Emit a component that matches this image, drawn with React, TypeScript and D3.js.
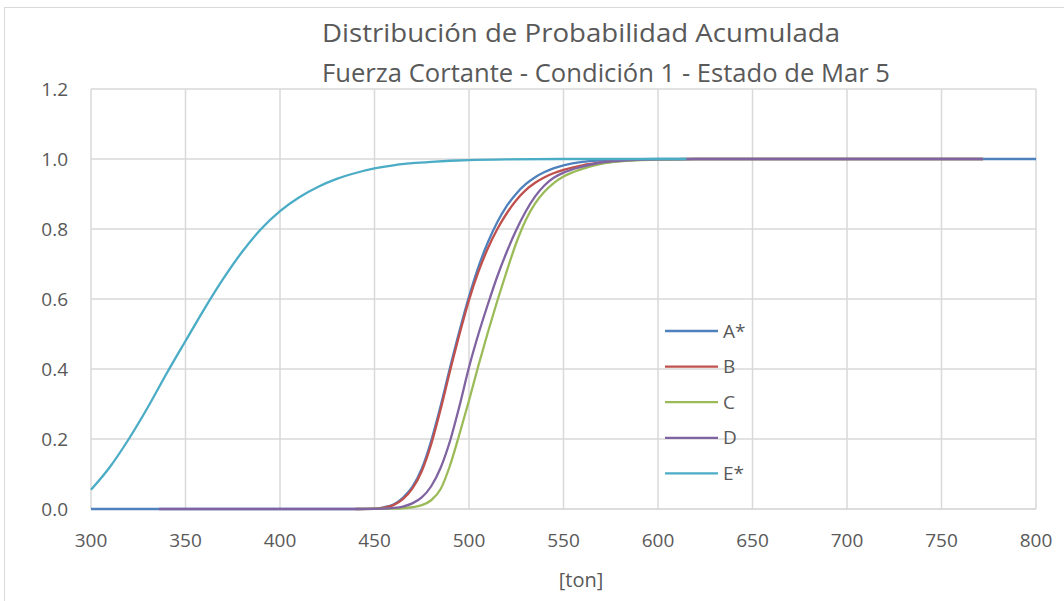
import React from "react";
import * as d3 from "d3";

const titleLines = ["Distribución de Probabilidad Acumulada", "Fuerza Cortante - Condición 1 - Estado de Mar 5"];
const xTicks = [300, 350, 400, 450, 500, 550, 600, 650, 700, 750, 800];
const yTicks = [0, 0.2, 0.4, 0.6, 0.8, 1.0, 1.2];
const xLabel = "[ton]";
const seriesNames = ["A*", "B", "C", "D", "E*"];
const seriesColors = ["#4F81BD", "#C0504D", "#9BBB59", "#8064A2", "#4BACC6"];

const aX = [300, 440, 450, 455, 460, 465, 470, 475, 480, 485, 490, 495, 500, 505, 510, 515, 520, 525, 530, 535, 540, 545, 550, 560, 570, 580, 600, 620, 800];
const aY = [0, 0, 0.001, 0.005, 0.013, 0.032, 0.063, 0.115, 0.195, 0.295, 0.405, 0.51, 0.607, 0.692, 0.762, 0.82, 0.866, 0.901, 0.928, 0.948, 0.963, 0.974, 0.982, 0.992, 0.996, 0.998, 1.0, 1.0, 1.0];

const bX = [440, 450, 455, 460, 465, 470, 475, 480, 485, 490, 495, 500, 505, 510, 515, 520, 525, 530, 535, 540, 545, 550, 560, 570, 580, 590, 600, 620, 772];
const bY = [0, 0.001, 0.004, 0.011, 0.028, 0.058, 0.108, 0.185, 0.285, 0.395, 0.5, 0.597, 0.678, 0.745, 0.8, 0.845, 0.882, 0.911, 0.932, 0.948, 0.96, 0.969, 0.982, 0.99, 0.995, 0.998, 0.999, 1.0, 1.0];

const cX = [440, 460, 465, 470, 475, 480, 485, 490, 495, 500, 505, 510, 515, 520, 525, 530, 535, 540, 545, 550, 560, 570, 580, 600, 620, 772];
const cY = [0, 0.001, 0.002, 0.005, 0.011, 0.025, 0.057, 0.125, 0.215, 0.31, 0.41, 0.505, 0.595, 0.68, 0.76, 0.825, 0.873, 0.907, 0.932, 0.95, 0.972, 0.986, 0.993, 0.998, 1.0, 1.0];

const dX = [336, 445, 455, 460, 465, 470, 475, 480, 485, 490, 495, 500, 505, 510, 515, 520, 525, 530, 535, 540, 545, 550, 560, 570, 580, 600, 620, 772];
const dY = [0, 0, 0.001, 0.003, 0.007, 0.016, 0.033, 0.065, 0.118, 0.195, 0.295, 0.405, 0.5, 0.585, 0.665, 0.735, 0.797, 0.85, 0.893, 0.925, 0.947, 0.961, 0.978, 0.99, 0.995, 0.999, 1.0, 1.0];

const eX = [300, 310, 320, 330, 340, 350, 360, 370, 380, 390, 400, 410, 420, 430, 440, 450, 460, 470, 480, 490, 500, 520, 550, 615];
const eY = [0.055, 0.12, 0.2, 0.29, 0.387, 0.48, 0.572, 0.658, 0.735, 0.8, 0.851, 0.89, 0.92, 0.943, 0.96, 0.973, 0.982, 0.988, 0.992, 0.995, 0.997, 0.999, 1.0, 1.0];

const seriesX = [aX, bX, cX, dX, eX];
const seriesY = [aY, bY, cY, dY, eY];

const W = 1064;
const H = 601;
const left = 91, right = 1036, top = 89, bottom = 509;
const font = "'Open Sans', sans-serif";
const textColor = "#595959";

export default function App() {
  const x = d3.scaleLinear().domain([300, 800]).range([left, right]);
  const y = d3.scaleLinear().domain([0, 1.2]).range([bottom, top]);
  const line = d3
    .line<[number, number]>()
    .x((d) => x(d[0]))
    .y((d) => y(d[1]))
    .curve(d3.curveMonotoneX);

  const legendX = 665;
  const legendY0 = 331;
  const legendStep = 35.6;

  return (
    <svg
      width={W}
      height={H}
      style={{ position: "absolute", left: 0, top: 0, background: "#fff" }}
      fontFamily={font}
    >
      <rect x={4.5} y={7.5} width={1200} height={800} fill="#fff" stroke="#d9d9d9" strokeWidth={1} />
      {xTicks.map((t) => (
        <line key={"gx" + t} x1={x(t)} x2={x(t)} y1={top} y2={bottom} stroke="#d9d9d9" strokeWidth={1.5} />
      ))}
      {yTicks.map((t) => (
        <line key={"gy" + t} x1={left} x2={right} y1={y(t)} y2={y(t)} stroke={t === 0 ? "#d0d0d0" : "#d9d9d9"} strokeWidth={1.5} />
      ))}
      {seriesX.map((xs, i) => {
        const pts = xs.map((v, j) => [v, seriesY[i][j]] as [number, number]);
        return (
          <path key={"s" + i} d={line(pts) || ""} fill="none" stroke={seriesColors[i]} strokeWidth={2.3} strokeLinejoin="round" />
        );
      })}
      {yTicks.map((t) => (
        <text key={"ty" + t} x={68} y={y(t)} dy="0.35em" textAnchor="end" fontSize={19} fill={textColor}>
          {t.toFixed(1)}
        </text>
      ))}
      {xTicks.map((t) => (
        <text key={"tx" + t} x={x(t)} y={540} dy="0.35em" textAnchor="middle" fontSize={19} fill={textColor}>
          {t}
        </text>
      ))}
      <text x={581} y={580} dy="0.35em" textAnchor="middle" fontSize={20} fill={textColor}>
        {xLabel}
      </text>
      <text x={581} y={33} dy="0.35em" textAnchor="middle" fontSize={26} fill={textColor} textLength={518} lengthAdjust="spacingAndGlyphs">
        {titleLines[0]}
      </text>
      <text x={606} y={73} dy="0.35em" textAnchor="middle" fontSize={26} fill={textColor} textLength={568} lengthAdjust="spacingAndGlyphs">
        {titleLines[1]}
      </text>
      {seriesNames.map((n, i) => {
        const ly = legendY0 + i * legendStep;
        return (
          <g key={"l" + i}>
            <line x1={legendX} x2={legendX + 53} y1={ly} y2={ly} stroke={seriesColors[i]} strokeWidth={2.3} />
            <text x={legendX + 58} y={ly} dy="0.35em" fontSize={19} fill={textColor}>
              {n}
            </text>
          </g>
        );
      })}
    </svg>
  );
}
